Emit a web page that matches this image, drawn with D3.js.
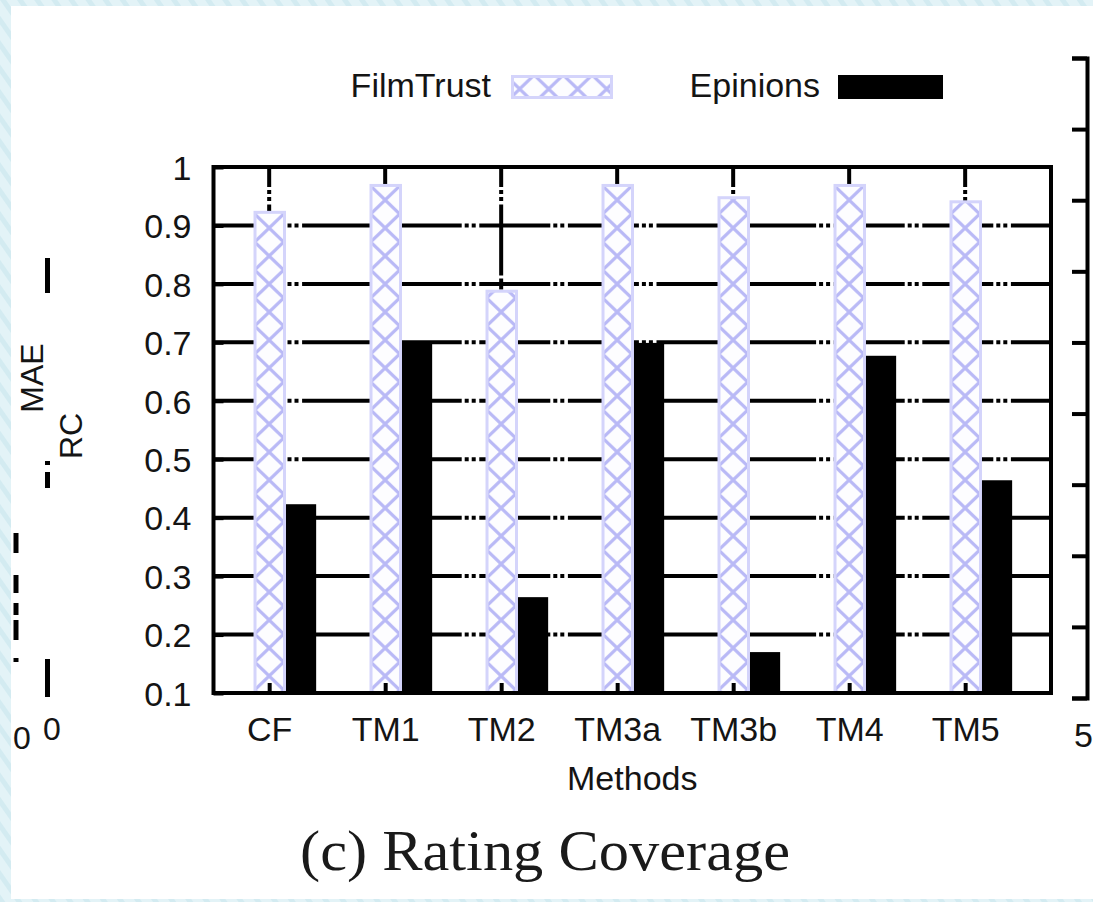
<!DOCTYPE html>
<html>
<head>
<meta charset="utf-8">
<script src="https://cdn.jsdelivr.net/npm/d3@7"></script>
<style>
  html, body { margin: 0; padding: 0; background: #fff; }
  svg { display: block; }
  text { font-family: "Liberation Sans", Arial, sans-serif; fill: #141414; }
</style>
</head>
<body>
<div id="chart"></div>
<script>
// Data
const categories = ['CF', 'TM1', 'TM2', 'TM3a', 'TM3b', 'TM4', 'TM5'];
const filmTrust = [0.925, 0.971, 0.79, 0.971, 0.95, 0.971, 0.943];
const epinions = [0.423, 0.702, 0.264, 0.699, 0.170, 0.677, 0.464];
const yTicks = [0.1, 0.2, 0.3, 0.4, 0.5, 0.6, 0.7, 0.8, 0.9, 1];
const seriesNames = ['FilmTrust', 'Epinions'];

// fragments of the neighbouring plots that were cut by the crop
const rightTicks = [0, 1, 2, 3, 4, 5, 6, 7, 8, 9];
const leftDashA = [[258, 293], [461, 465], [472, 488], [659, 697]];
const leftDashB = [[533, 553], [575, 593], [603, 615], [620, 640], [658, 662]];

const W = 1093;
const H = 902;

// Set the dimensions of the plot frame
const margin = { top: 167, right: 42, bottom: 209, left: 213.5 };
const width = W - margin.left - margin.right;
const height = H - margin.top - margin.bottom;

const svg = d3.select('#chart')
  .append('svg')
  .attr('width', W)
  .attr('height', H);

const defs = svg.append('defs');

// striped page background of the scan
const stripes = defs.append('pattern')
  .attr('id', 'stripes')
  .attr('patternUnits', 'userSpaceOnUse')
  .attr('width', 14)
  .attr('height', 14)
  .attr('patternTransform', 'rotate(-35)');
stripes.append('rect').attr('width', 14).attr('height', 14).attr('fill', '#e3f3f7');
stripes.append('rect').attr('width', 5).attr('height', 14).attr('fill', '#d3ebf1');

svg.append('rect').attr('width', W).attr('height', H).attr('fill', 'url(#stripes)');
svg.append('rect')
  .attr('x', 11).attr('y', 6)
  .attr('width', W - 11).attr('height', H - 9)
  .attr('fill', '#fff');

// Set the ranges
const x = d3.scaleLinear().domain([-0.48, 6.74]).range([0, width]);
const y = d3.scaleLinear().domain([0.1, 1]).range([height, 0]);

// crosshatch used by gnuplot for the FilmTrust boxes (fixed in page space)
const hatchW = x(1) - x(0) - x(0.75) + x(0) > 0 ? (x(1) - x(0)) / 4 : 27;
const hatchH = 28;
const hatch = defs.append('pattern')
  .attr('id', 'hatch')
  .attr('patternUnits', 'userSpaceOnUse')
  .attr('x', x(0) - hatchW * 10)
  .attr('y', 61 - hatchH * 10)
  .attr('width', hatchW)
  .attr('height', hatchH);
hatch.append('rect').attr('width', hatchW).attr('height', hatchH).attr('fill', '#fdfdff');
hatch.append('path')
  .attr('d', `M0,0L${hatchW},${hatchH}M${hatchW},0L0,${hatchH}`)
  .attr('stroke', '#b9b9f6')
  .attr('stroke-width', 3.2)
  .attr('fill', 'none');

const g = svg.append('g')
  .attr('transform', `translate(${margin.left}, ${margin.top})`);

// Grid (gnuplot dash-dot-dot)
const dash = '71,3,4,3,4,3.6';
g.append('g')
  .selectAll('line')
  .data(yTicks.slice(1, -1))
  .enter()
  .append('line')
  .attr('x1', 0)
  .attr('x2', width)
  .attr('y1', d => y(d))
  .attr('y2', d => y(d))
  .attr('stroke', '#000')
  .attr('stroke-width', 4)
  .attr('stroke-dasharray', dash);

g.append('g')
  .selectAll('line')
  .data(categories.map((c, i) => i))
  .enter()
  .append('line')
  .attr('x1', d => x(d))
  .attr('x2', d => x(d))
  .attr('y1', 0)
  .attr('y2', height)
  .attr('stroke', '#000')
  .attr('stroke-width', 4)
  .attr('stroke-dasharray', dash)
  .attr('stroke-dashoffset', 51);

// Bars
const ftStart = -0.135;
const split = 0.145;
const epEnd = 0.405;

g.append('g')
  .selectAll('rect')
  .data(filmTrust)
  .enter()
  .append('rect')
  .attr('x', (d, i) => x(i + ftStart) + 1.5)
  .attr('y', d => y(d) + 1.5)
  .attr('width', x(split) - x(ftStart) - 3)
  .attr('height', d => height - y(d) - 1.5)
  .attr('fill', 'url(#hatch)')
  .attr('stroke', '#d4d4fb')
  .attr('stroke-width', 3);

g.append('g')
  .selectAll('rect')
  .data(epinions)
  .enter()
  .append('rect')
  .attr('x', (d, i) => x(i + split))
  .attr('y', d => y(d))
  .attr('width', x(epEnd) - x(split))
  .attr('height', d => height - y(d))
  .attr('fill', '#000');

// Frame
g.append('rect')
  .attr('width', width)
  .attr('height', height)
  .attr('fill', 'none')
  .attr('stroke', '#000')
  .attr('stroke-width', 4);

// Axes
const yAxis = d3.axisLeft(y)
  .tickValues(yTicks)
  .tickFormat(d => (d === 1 ? '1' : d.toFixed(1)))
  .tickSize(-10)
  .tickPadding(22);

const xAxis = d3.axisBottom(x)
  .tickValues(categories.map((c, i) => i))
  .tickFormat(i => categories[i])
  .tickSize(-10)
  .tickPadding(24);

const yG = g.append('g').attr('class', 'y axis').call(yAxis);
const xG = g.append('g').attr('class', 'x axis')
  .attr('transform', `translate(0, ${height})`)
  .call(xAxis);

[yG, xG].forEach((a) => {
  a.select('.domain').remove();
  a.selectAll('.tick line').attr('stroke', '#000').attr('stroke-width', 4);
  a.selectAll('.tick text')
    .attr('fill', '#141414')
    .style('font-size', '34px')
    .style('font-family', '"Liberation Sans", Arial, sans-serif');
});
yG.selectAll('.tick text').attr('dy', '0.36em');

// Axis title
g.append('text')
  .attr('x', width / 2)
  .attr('y', height + 97)
  .attr('text-anchor', 'middle')
  .style('font-size', '34px')
  .text('Methods');

// Legend
const legend = svg.append('g');
const legendItems = [
  { name: seriesNames[0], textEnd: 491, box: [511, 613], fill: 'url(#hatch)', stroke: '#d4d4fb' },
  { name: seriesNames[1], textEnd: 820, box: [838, 943], fill: '#000', stroke: '#000' },
];
legendItems.forEach((d) => {
  legend.append('text')
    .attr('x', d.textEnd)
    .attr('y', 97)
    .attr('text-anchor', 'end')
    .style('font-size', '34px')
    .text(d.name);
  legend.append('rect')
    .attr('x', d.box[0] + 1.5)
    .attr('y', 76.5)
    .attr('width', d.box[1] - d.box[0] - 3)
    .attr('height', 21)
    .attr('fill', d.fill)
    .attr('stroke', d.stroke)
    .attr('stroke-width', 3);
});

// Caption
svg.append('text')
  .attr('x', 545)
  .attr('y', 870)
  .attr('text-anchor', 'middle')
  .attr('textLength', 490)
  .attr('lengthAdjust', 'spacingAndGlyphs')
  .style('font-family', '"Liberation Serif", "DejaVu Serif", serif')
  .style('font-size', '56px')
  .style('fill', '#1a1a1a')
  .text('(c) Rating Coverage');

// Right neighbour plot: its left axis
const yRight = d3.scaleLinear().domain([0, 9]).range([698, 58]);
const rightAxis = svg.append('g')
  .attr('transform', 'translate(1087, 0)')
  .call(d3.axisLeft(yRight).tickValues(rightTicks).tickSize(15).tickFormat(''));
rightAxis.select('.domain').attr('stroke', '#000').attr('stroke-width', 4);
rightAxis.selectAll('.tick line').attr('stroke', '#000').attr('stroke-width', 4);
svg.append('text')
  .attr('x', 1074)
  .attr('y', 747)
  .style('font-size', '34px')
  .text('5');

// Left neighbour plot: axis titles and clipped pieces
svg.append('text')
  .attr('transform', 'translate(43, 378) rotate(-90)')
  .attr('text-anchor', 'middle')
  .style('font-size', '32px')
  .text('MAE');
svg.append('text')
  .attr('transform', 'translate(82, 436) rotate(-90)')
  .attr('text-anchor', 'middle')
  .style('font-size', '32px')
  .text('RC');
svg.append('text').attr('x', 13).attr('y', 749).style('font-size', '32px').text('0');
svg.append('text').attr('x', 43).attr('y', 740).style('font-size', '32px').text('0');

[[47.5, leftDashA], [16, leftDashB]].forEach(([lx, segs]) => {
  svg.append('g')
    .selectAll('line')
    .data(segs)
    .enter()
    .append('line')
    .attr('x1', lx)
    .attr('x2', lx)
    .attr('y1', d => d[0])
    .attr('y2', d => d[1])
    .attr('stroke', '#000')
    .attr('stroke-width', 5);
});
</script>
</body>
</html>
